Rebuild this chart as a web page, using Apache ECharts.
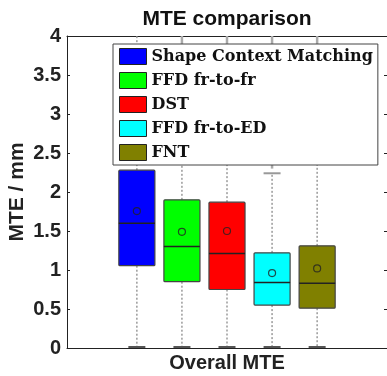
<!DOCTYPE html>
<html>
<head>
<meta charset="utf-8">
<script src="https://cdn.jsdelivr.net/npm/echarts@6/dist/echarts.min.js"></script>
<style>
  html, body { margin: 0; padding: 0; background: #fff; }
  #chart { width: 387px; height: 376px; }
</style>
</head>
<body>
<div id="chart"></div>
<script>
// data
const methods = ['Shape Context Matching', 'FFD fr-to-fr', 'DST', 'FFD fr-to-ED', 'FNT']
const colors = ['#0000ff', '#00ff00', '#ff0000', '#00ffff', '#808000']
const positions = [1, 2, 3, 4, 5]
const whiskerLow = [0, 0, 0, 0, 0]
const q1 = [1.055, 0.85, 0.75, 0.55, 0.51]
const median = [1.60, 1.30, 1.21, 0.84, 0.83]
const q3 = [2.28, 1.90, 1.87, 1.22, 1.31]
const whiskerHigh = [4.4, 3.6, 3.6, 2.24, 3.6]
const means = [1.756, 1.49, 1.50, 0.96, 1.02]
const outlierLow = [4.4, 3.7, 3.7, 2.30, 3.7]
const outlierHigh = [4.4, 4.4, 4.4, 4.4, 4.4]
const yTicks = [0, 0.5, 1, 1.5, 2, 2.5, 3, 3.5, 4]

const chart = echarts.init(document.getElementById('chart'))

const renderBox = (params, api) => {
  const x = api.value(0)
  const pLow = api.coord([x, api.value(1)])
  const pQ1 = api.coord([x, api.value(2)])
  const pMed = api.coord([x, api.value(3)])
  const pQ3 = api.coord([x, api.value(4)])
  const pHigh = api.coord([x, api.value(5)])
  const pOutLo = api.coord([x, api.value(6)])
  const pOutHi = api.coord([x, api.value(7)])
  const half = api.size([0.8, 0])[0] / 2
  const cap = 8.5
  const cx = pMed[0]
  const dotted = { stroke: '#9a9a9a', lineWidth: 1.5, lineDash: [2, 2] }
  const children = [
    { type: 'line', shape: { x1: cx, y1: pQ1[1], x2: cx, y2: pLow[1] }, style: dotted },
    { type: 'line', shape: { x1: cx, y1: pQ3[1], x2: cx, y2: pHigh[1] }, style: dotted },
    { type: 'line', shape: { x1: cx - cap, y1: pLow[1] - 1, x2: cx + cap, y2: pLow[1] - 1 }, style: { stroke: '#555', lineWidth: 2 } },
    { type: 'line', shape: { x1: cx - cap, y1: pHigh[1], x2: cx + cap, y2: pHigh[1] }, style: { stroke: '#999', lineWidth: 2 } },
    { type: 'line', shape: { x1: cx, y1: pOutLo[1], x2: cx, y2: pOutHi[1] }, style: { stroke: '#aaa', lineWidth: 2.5 } },
    {
      type: 'rect',
      shape: { x: cx - half, y: pQ3[1], width: half * 2, height: pQ1[1] - pQ3[1], r: 1 },
      style: { fill: api.visual('color'), stroke: '#444', lineWidth: 1.2 }
    },
    { type: 'line', shape: { x1: cx - half, y1: pMed[1], x2: cx + half, y2: pMed[1] }, style: { stroke: '#222', lineWidth: 1.5 } }
  ]
  return { type: 'group', children }
}

const boxSeries = methods.map((name, i) => ({
  name: name,
  type: 'custom',
  clip: true,
  itemStyle: { color: colors[i] },
  renderItem: renderBox,
  encode: { x: 0, y: [1, 2, 3, 4, 5] },
  data: [[positions[i], whiskerLow[i], q1[i], median[i], q3[i], whiskerHigh[i], outlierLow[i], outlierHigh[i]]],
  z: 2
}))

const option = {
  backgroundColor: '#fff',
  animation: false,
  title: {
    text: 'MTE comparison',
    left: 227,
    top: 9,
    padding: 0,
    textAlign: 'center',
    textStyle: { fontFamily: 'Liberation Sans', fontWeight: 'bold', fontSize: 21, color: '#111' }
  },
  grid: { left: 67, right: 0, top: 36, bottom: 28, outerBoundsMode: 'none' },
  legend: {
    data: methods,
    orient: 'vertical',
    left: 113,
    top: 44,
    padding: [4, 5, 4, 6],
    itemGap: 7,
    itemWidth: 27,
    itemHeight: 16,
    icon: 'rect',
    backgroundColor: '#fff',
    borderColor: '#444',
    borderWidth: 1,
    itemStyle: { borderColor: '#222', borderWidth: 1 },
    textStyle: { fontFamily: 'DejaVu Serif', fontWeight: 'bold', fontSize: 16, color: '#111' },
    selectedMode: false
  },
  xAxis: [{
    type: 'value',
    min: -0.55,
    max: 6.55,
    name: 'Overall MTE',
    nameLocation: 'middle',
    nameGap: 5,
    nameTextStyle: { fontFamily: 'Liberation Sans', fontWeight: 'bold', fontSize: 20, color: '#222', verticalAlign: 'top' },
    axisLine: { show: true, onZero: false, lineStyle: { color: '#222', width: 1 } },
    axisTick: { show: false },
    axisLabel: { show: false },
    splitLine: { show: false }
  }, {
    type: 'value',
    position: 'top',
    min: -0.55,
    max: 6.55,
    axisLine: { show: true, onZero: false, lineStyle: { color: '#222', width: 1 } },
    axisTick: { show: false },
    axisLabel: { show: false },
    splitLine: { show: false }
  }],
  yAxis: [{
    type: 'value',
    min: yTicks[0],
    max: yTicks[yTicks.length - 1],
    interval: 0.5,
    name: 'MTE / mm',
    nameLocation: 'middle',
    nameGap: 39,
    nameMoveOverlap: false,
    nameTextStyle: { fontFamily: 'Liberation Sans', fontWeight: 'bold', fontSize: 21, color: '#222' },
    axisLine: { show: true, onZero: false, lineStyle: { color: '#222', width: 1 } },
    axisTick: { show: true, inside: true, length: 3, lineStyle: { color: '#222' } },
    axisLabel: {
      margin: 6,
      fontFamily: 'Liberation Sans',
      fontWeight: 'bold',
      fontSize: 20,
      color: '#222',
      formatter: v => String(v)
    },
    splitLine: { show: false }
  }, {
    type: 'value',
    position: 'right',
    min: yTicks[0],
    max: yTicks[yTicks.length - 1],
    interval: 0.5,
    axisLine: { show: true, onZero: false, lineStyle: { color: '#222', width: 1 } },
    axisTick: { show: true, inside: true, length: 3, lineStyle: { color: '#222' } },
    axisLabel: { show: false },
    splitLine: { show: false }
  }],
  series: boxSeries.concat([{
    type: 'scatter',
    symbol: 'circle',
    symbolSize: 7,
    itemStyle: { color: 'rgba(0,0,0,0)', borderColor: '#222', borderWidth: 1.2 },
    data: positions.map((p, i) => [p, means[i]]),
    z: 3
  }])
}

chart.setOption(option)
</script>
</body>
</html>
